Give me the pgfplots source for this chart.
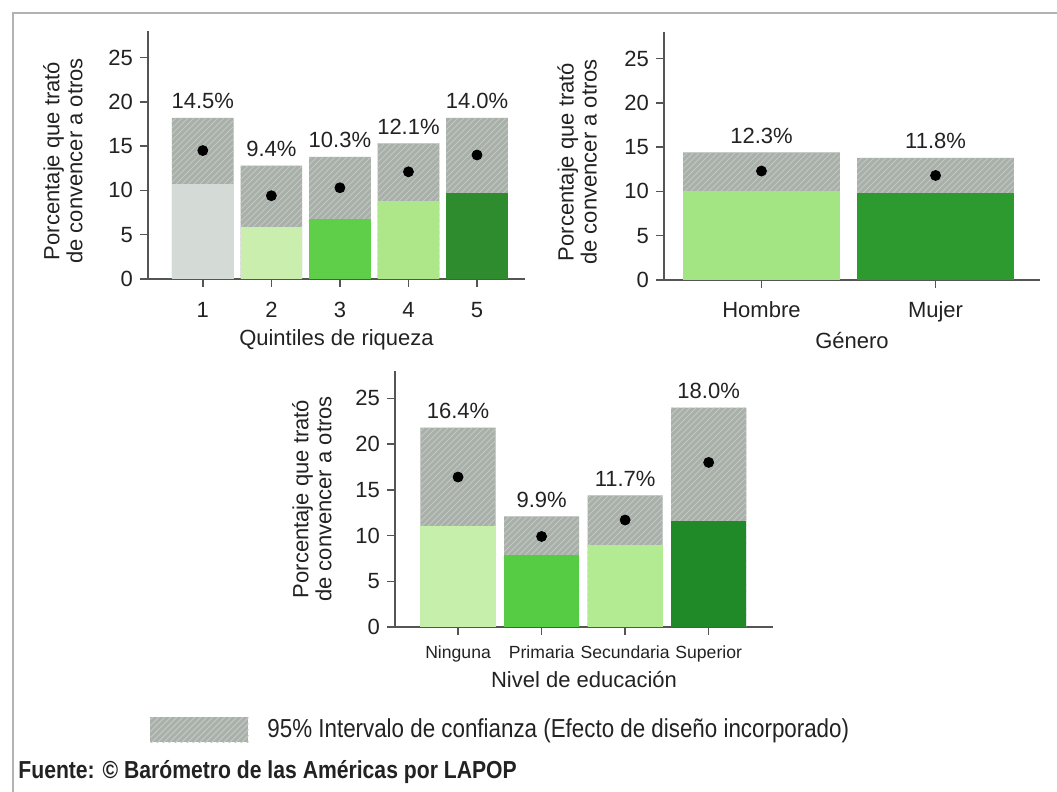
\documentclass[border=0pt]{standalone}
\usepackage{pgfplots}
\pgfplotsset{compat=1.18}
\usepackage{pgfplotstable}
\usepackage{fontspec}
\setmainfont{Liberation Sans}
\newfontfamily\narrowfont[FakeStretch=0.86]{Liberation Sans}
\usetikzlibrary{patterns}

\definecolor{cigray}{HTML}{A9B0AA}
\definecolor{cihatch}{HTML}{C2C7C3}
\definecolor{axgray}{HTML}{555555}
\definecolor{txt}{HTML}{222222}
\definecolor{qa}{HTML}{D4DBD6}
\definecolor{qb}{HTML}{C9EEAE}
\definecolor{qc}{HTML}{5FCF4A}
\definecolor{qd}{HTML}{AEE68A}
\definecolor{qe}{HTML}{2E8B2E}
\definecolor{ga}{HTML}{A3E582}
\definecolor{gb}{HTML}{2C9A2E}
\definecolor{ea}{HTML}{C5EFAA}
\definecolor{eb}{HTML}{56CC44}
\definecolor{ec}{HTML}{B3EB92}
\definecolor{ed}{HTML}{1F8A27}

\pgfplotstableread{
x lo hi mean lab
1 10.7 18.2 14.5 14.5
2 5.9 12.8 9.4 9.4
3 6.8 13.8 10.3 10.3
4 8.8 15.3 12.1 12.1
5 9.7 18.2 14.0 14.0
}\quintiles
\pgfplotstableread{
x lo hi mean lab
1 10.1 14.4 12.3 12.3
2 9.8 13.8 11.8 11.8
}\genero
\pgfplotstableread{
x lo hi mean lab
1 11.0 21.8 16.4 16.4
2 7.9 12.1 9.9 9.9
3 9.0 14.4 11.7 11.7
4 11.6 24.0 18.0 18.0
}\educ

\pgfplotsset{
  panel/.style={
    scale only axis,
    ymin=0, ymax=28,
    ytick={0,5,10,15,20,25},
    axis x line*=bottom, axis y line*=left,
    axis line style={axgray, line width=0.7pt},
    tick style={axgray, line width=0.7pt},
    tick align=outside,
    major tick length=4pt,
    /pgf/number format/assume math mode=true,
    tick label style={font=\fontsize{11}{13}\selectfont, text=txt},
    label style={font=\fontsize{11}{11.5}\selectfont, text=txt},
    ylabel style={align=center, anchor=center, rotate=0},
    clip=false,
  },
  grn/.style={ybar, bar width=0.9, bar shift=0pt, draw=none, fill=#1},
  cib/.style={ybar, bar width=0.9, bar shift=0pt, draw=none, fill=cigray,
    postaction={pattern=north east lines, pattern color=cihatch},
    nodes near coords={\pgfplotspointmeta\%},
    point meta=explicit symbolic,
    every node near coord/.append style={font=\fontsize{11}{13}\selectfont, text=txt, yshift=1pt}},
  dots/.style={only marks, mark=*, mark size=2.5pt, black},
}

\begin{document}
\begin{tikzpicture}[x=1pt,y=1pt]
\useasboundingbox (0,0) rectangle (528.5,396);
\draw[gray!60, line width=0.8pt] (6.5,0) -- (6.5,389.5) -- (528.5,389.5);

% Panel 1
\begin{axis}[panel, at={(74pt,256.5pt)}, anchor=south west,
  width=188.5pt, height=124pt,
  xmin=0.2, xmax=5.7, xtick={1,2,3,4,5},
  xticklabel style={yshift=-4pt},
  xlabel={Quintiles de riqueza},
  xlabel style={at={(axis description cs:0.5,-0.245)}, anchor=center},
  ylabel={Porcentaje que trató\\de convencer a otros},
  ylabel style={at={(axis description cs:-0.2255,0.476)}},
]
\addplot[cib] table[x=x, y=hi, meta=lab] {\quintiles};
\addplot[grn=qa] coordinates {(1,10.7)};
\addplot[grn=qb] coordinates {(2,5.9)};
\addplot[grn=qc] coordinates {(3,6.8)};
\addplot[grn=qd] coordinates {(4,8.8)};
\addplot[grn=qe] coordinates {(5,9.7)};
\addplot[dots] table[x=x, y=mean] {\quintiles};
\end{axis}

% Panel 2
\begin{axis}[panel, at={(332pt,256pt)}, anchor=south west,
  width=188pt, height=124pt,
  xmin=0.44, xmax=2.6, xtick={1,2}, xticklabels={Hombre,Mujer},
  xticklabel style={yshift=-3.5pt},
  xlabel={Género},
  xlabel style={at={(axis description cs:0.5,-0.242)}, anchor=center},
  ylabel={Porcentaje que trató\\de convencer a otros},
  ylabel style={at={(axis description cs:-0.231,0.476)}},
]
\addplot[cib] table[x=x, y=hi, meta=lab] {\genero};
\addplot[grn=ga] coordinates {(1,10.1)};
\addplot[grn=gb] coordinates {(2,9.8)};
\addplot[dots] table[x=x, y=mean] {\genero};
\end{axis}

% Panel 3
\begin{axis}[panel, at={(197.5pt,82.5pt)}, anchor=south west,
  width=189pt, height=128pt,
  xmin=0.245, xmax=4.77, xtick={1,2,3,4},
  xticklabels={Ninguna,Primaria,Secundaria,Superior},
  xticklabel style={font=\fontsize{8.8}{10}\selectfont, yshift=-2pt},
  xlabel={Nivel de educación},
  xlabel style={at={(axis description cs:0.5,-0.207)}, anchor=center},
  ylabel={Porcentaje que trató\\de convencer a otros},
  ylabel style={at={(axis description cs:-0.22,0.5)}},
  legend style={at={(axis description cs:-0.648,-0.402)}, anchor=west,
    draw=none, fill=none, inner sep=0pt,
    font=\narrowfont\fontsize{13}{15}\selectfont, text=txt,
    cells={anchor=west}},
  legend image code/.code={\fill[cigray, postaction={pattern=north east lines, pattern color=cihatch}] (0pt,-6.25pt) rectangle (49pt,6.25pt);},
  legend cell align=left,
  /tikz/every odd column/.append style={column sep=7.5pt},
]
\addplot[cib] table[x=x, y=hi, meta=lab] {\educ};
\addlegendentry{95\% Intervalo de confianza (Efecto de diseño incorporado)}
\addplot[grn=ea, forget plot] coordinates {(1,11.0)};
\addplot[grn=eb, forget plot] coordinates {(2,7.9)};
\addplot[grn=ec, forget plot] coordinates {(3,9.0)};
\addplot[grn=ed, forget plot] coordinates {(4,11.6)};
\addplot[dots, forget plot] table[x=x, y=mean] {\educ};
\end{axis}

\node[anchor=west, inner sep=0pt, text=txt, font=\narrowfont\bfseries\fontsize{12.3}{14}\selectfont] at (9,10) {Fuente: © Barómetro de las Américas por LAPOP};
\end{tikzpicture}
\end{document}
